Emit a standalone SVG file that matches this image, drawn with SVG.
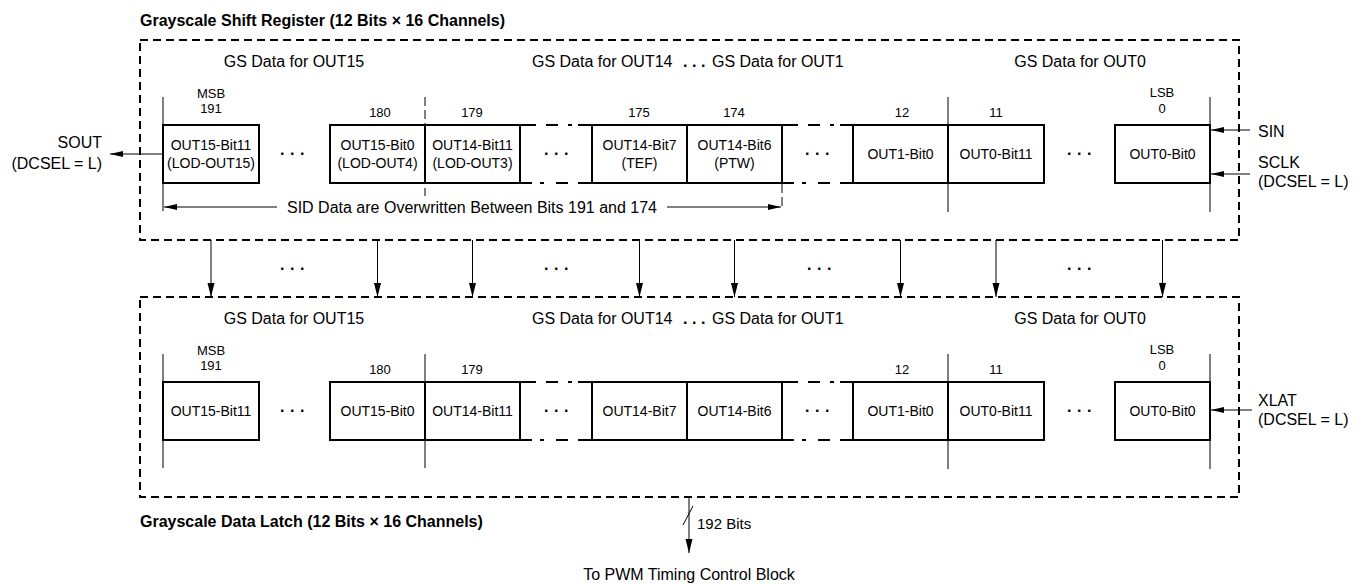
<svg xmlns="http://www.w3.org/2000/svg" width="1364" height="584" viewBox="0 0 1364 584">
<style>
text { font-family: "Liberation Sans", Arial, Helvetica, sans-serif; fill: #000; }
.title { font-size: 16px; font-weight: bold; }
.h { font-size: 16px; }
.hm { font-size: 16px; text-anchor: middle; }
.he { font-size: 16px; text-anchor: end; }
.c { font-size: 14px; text-anchor: middle; }
.n { font-size: 13px; text-anchor: middle; }
.dots { font-size: 16px; font-weight: bold; letter-spacing: 5.5px; text-anchor: middle; }
.hdots { font-size: 16px; font-weight: bold; letter-spacing: 4.5px; }
.frame { fill: none; stroke: #000; stroke-width: 2; stroke-dasharray: 8 5; }
.cell { fill: #fff; stroke: #000; stroke-width: 2; }
.thin { stroke: #000; stroke-width: 1; fill: none; }
.dthin { stroke: #000; stroke-width: 1; fill: none; stroke-dasharray: 9 4; }
.brk { stroke: #000; stroke-width: 2; fill: none; }
.arr { stroke: #000; stroke-width: 1; fill: none; marker-end: url(#ah); }
</style>
<defs>
<marker id="ah" markerUnits="userSpaceOnUse" markerWidth="14" markerHeight="8" refX="13" refY="3" orient="auto">
<path d="M0,0 L13,3 L0,6 z" fill="#000"/>
</marker>
<marker id="ahd" markerUnits="userSpaceOnUse" markerWidth="15" markerHeight="8" refX="14" refY="3.5" orient="auto">
<path d="M0,0 L14,3.5 L0,7 z" fill="#000"/>
</marker>
</defs>

<!-- Grayscale Shift Register -->
<g id="shift-register">
<text class="title" x="140" y="26">Grayscale Shift Register (12 Bits × 16 Channels)</text>
<rect class="frame" x="140" y="40" width="1099" height="200"/>
<text class="hm" x="294" y="67">GS Data for OUT15</text>
<text class="h" x="532" y="67">GS Data for OUT14<tspan class="hdots" x="683">...</tspan><tspan x="712">GS Data for OUT1</tspan></text>
<text class="hm" x="1080" y="67">GS Data for OUT0</text>

<line class="thin" x1="163" y1="97" x2="163" y2="211"/>
<line class="dthin" x1="425" y1="97" x2="425" y2="196"/>
<line class="thin" x1="948" y1="97" x2="948" y2="212"/>
<line class="thin" x1="1210" y1="97" x2="1210" y2="212"/>
<line class="dthin" x1="782" y1="184" x2="782" y2="208"/>

<text class="n" x="211" y="98">MSB</text>
<text class="n" x="211" y="113">191</text>
<text class="n" x="380" y="117">180</text>
<text class="n" x="472" y="117">179</text>
<text class="n" x="639" y="117">175</text>
<text class="n" x="734" y="117">174</text>
<text class="n" x="902" y="117">12</text>
<text class="n" x="996" y="117">11</text>
<text class="n" x="1162" y="97">LSB</text>
<text class="n" x="1162" y="113">0</text>

<path class="brk" d="M520,125 H536 M546,125 H558 M568,125 H572 M578,125 H592 M520,183 H532 M540,183 H544 M556,183 H568 M578,183 H592"/>
<path class="brk" d="M782,125 H798 M808,125 H820 M830,125 H834 M840,125 H853 M782,183 H794 M802,183 H806 M818,183 H830 M840,183 H853"/>

<g id="sr-out15-bit11"><rect class="cell" x="163" y="125" width="96" height="58"/><text class="c" x="211" y="150">OUT15-Bit11</text><text class="c" x="211" y="168">(LOD-OUT15)</text></g>
<text class="dots" x="295" y="155">...</text>
<g id="sr-out15-bit0"><rect class="cell" x="330" y="125" width="95" height="58"/><text class="c" x="377.5" y="150">OUT15-Bit0</text><text class="c" x="377.5" y="168">(LOD-OUT4)</text></g>
<g id="sr-out14-bit11"><rect class="cell" x="425" y="125" width="95" height="58"/><text class="c" x="472.5" y="150">OUT14-Bit11</text><text class="c" x="472.5" y="168">(LOD-OUT3)</text></g>
<text class="dots" x="559" y="155">...</text>
<g id="sr-out14-bit7"><rect class="cell" x="592" y="125" width="95" height="58"/><text class="c" x="639.5" y="150">OUT14-Bit7</text><text class="c" x="639.5" y="168">(TEF)</text></g>
<g id="sr-out14-bit6"><rect class="cell" x="687" y="125" width="95" height="58"/><text class="c" x="734.5" y="150">OUT14-Bit6</text><text class="c" x="734.5" y="168">(PTW)</text></g>
<text class="dots" x="820" y="155">...</text>
<g id="sr-out1-bit0"><rect class="cell" x="853" y="125" width="95" height="58"/><text class="c" x="900.5" y="159">OUT1-Bit0</text></g>
<g id="sr-out0-bit11"><rect class="cell" x="948" y="125" width="96" height="58"/><text class="c" x="996" y="159">OUT0-Bit11</text></g>
<text class="dots" x="1082" y="155">...</text>
<g id="sr-out0-bit0"><rect class="cell" x="1115" y="125" width="95" height="58"/><text class="c" x="1162.5" y="159">OUT0-Bit0</text></g>

<text class="hm" x="472" y="213">SID Data are Overwritten Between Bits 191 and 174</text>
</g>

<g id="io-labels">
<text class="he" x="102" y="148">SOUT</text>
<text class="he" x="102" y="169">(DCSEL = L)</text>
<text class="h" x="1258" y="137">SIN</text>
<text class="h" x="1258" y="168">SCLK</text>
<text class="h" x="1258" y="187">(DCSEL = L)</text>
<text class="h" x="1258" y="406">XLAT</text>
<text class="h" x="1258" y="425">(DCSEL = L)</text>
</g>

<!-- Grayscale Data Latch -->
<g id="data-latch">
<rect class="frame" x="140" y="297" width="1099" height="200"/>
<text class="hm" x="294" y="324">GS Data for OUT15</text>
<text class="h" x="532" y="324">GS Data for OUT14<tspan class="hdots" x="683">...</tspan><tspan x="712">GS Data for OUT1</tspan></text>
<text class="hm" x="1080" y="324">GS Data for OUT0</text>

<line class="thin" x1="163" y1="354" x2="163" y2="468"/>
<line class="thin" x1="425" y1="354" x2="425" y2="468"/>
<line class="thin" x1="948" y1="354" x2="948" y2="469"/>
<line class="thin" x1="1210" y1="354" x2="1210" y2="469"/>

<text class="n" x="211" y="355">MSB</text>
<text class="n" x="211" y="370">191</text>
<text class="n" x="380" y="374">180</text>
<text class="n" x="472" y="374">179</text>
<text class="n" x="902" y="374">12</text>
<text class="n" x="996" y="374">11</text>
<text class="n" x="1162" y="354">LSB</text>
<text class="n" x="1162" y="370">0</text>

<path class="brk" d="M520,382 H536 M546,382 H558 M568,382 H572 M578,382 H592 M520,440 H532 M540,440 H544 M556,440 H568 M578,440 H592"/>
<path class="brk" d="M782,382 H798 M808,382 H820 M830,382 H834 M840,382 H853 M782,440 H794 M802,440 H806 M818,440 H830 M840,440 H853"/>

<g id="dl-out15-bit11"><rect class="cell" x="163" y="382" width="96" height="58"/><text class="c" x="211" y="416">OUT15-Bit11</text></g>
<text class="dots" x="295" y="412">...</text>
<g id="dl-out15-bit0"><rect class="cell" x="330" y="382" width="95" height="58"/><text class="c" x="377.5" y="416">OUT15-Bit0</text></g>
<g id="dl-out14-bit11"><rect class="cell" x="425" y="382" width="95" height="58"/><text class="c" x="472.5" y="416">OUT14-Bit11</text></g>
<text class="dots" x="559" y="412">...</text>
<g id="dl-out14-bit7"><rect class="cell" x="592" y="382" width="95" height="58"/><text class="c" x="639.5" y="416">OUT14-Bit7</text></g>
<g id="dl-out14-bit6"><rect class="cell" x="687" y="382" width="95" height="58"/><text class="c" x="734.5" y="416">OUT14-Bit6</text></g>
<text class="dots" x="820" y="412">...</text>
<g id="dl-out1-bit0"><rect class="cell" x="853" y="382" width="95" height="58"/><text class="c" x="900.5" y="416">OUT1-Bit0</text></g>
<g id="dl-out0-bit11"><rect class="cell" x="948" y="382" width="96" height="58"/><text class="c" x="996" y="416">OUT0-Bit11</text></g>
<text class="dots" x="1082" y="412">...</text>
<g id="dl-out0-bit0"><rect class="cell" x="1115" y="382" width="95" height="58"/><text class="c" x="1162.5" y="416">OUT0-Bit0</text></g>

<text class="title" x="140" y="527">Grayscale Data Latch (12 Bits × 16 Channels)</text>
</g>

<g id="output">
<text class="h" x="697" y="529" style="font-size:15px">192 Bits</text>
<text class="hm" x="689" y="580">To PWM Timing Control Block</text>
</g>

<g id="connectors">
<line class="arr" x1="163" y1="154" x2="110" y2="154"/>
<line class="arr" x1="1250" y1="130" x2="1211" y2="130"/>
<line class="arr" x1="1250" y1="174" x2="1211" y2="174"/>
<line class="arr" x1="1252" y1="410" x2="1211" y2="410"/>
<line class="arr" x1="277" y1="207" x2="164" y2="207"/>
<line class="arr" x1="667" y1="207" x2="781" y2="207"/>
<line class="arr" x1="211" y1="240" x2="211" y2="297" style="marker-end:url(#ahd)"/>
<line class="arr" x1="377.5" y1="240" x2="377.5" y2="297" style="marker-end:url(#ahd)"/>
<line class="arr" x1="472.5" y1="240" x2="472.5" y2="297" style="marker-end:url(#ahd)"/>
<line class="arr" x1="639.5" y1="240" x2="639.5" y2="297" style="marker-end:url(#ahd)"/>
<line class="arr" x1="734.5" y1="240" x2="734.5" y2="297" style="marker-end:url(#ahd)"/>
<line class="arr" x1="900.5" y1="240" x2="900.5" y2="297" style="marker-end:url(#ahd)"/>
<line class="arr" x1="996" y1="240" x2="996" y2="297" style="marker-end:url(#ahd)"/>
<line class="arr" x1="1162.5" y1="240" x2="1162.5" y2="297" style="marker-end:url(#ahd)"/>
<line class="arr" x1="689" y1="497" x2="689" y2="553" style="marker-end:url(#ahd)"/>
<line class="thin" x1="683" y1="525" x2="693" y2="506"/>
<text class="dots" x="295" y="270">...</text>
<text class="dots" x="559" y="270">...</text>
<text class="dots" x="822" y="270">...</text>
<text class="dots" x="1082" y="270">...</text>
</g>
</svg>
